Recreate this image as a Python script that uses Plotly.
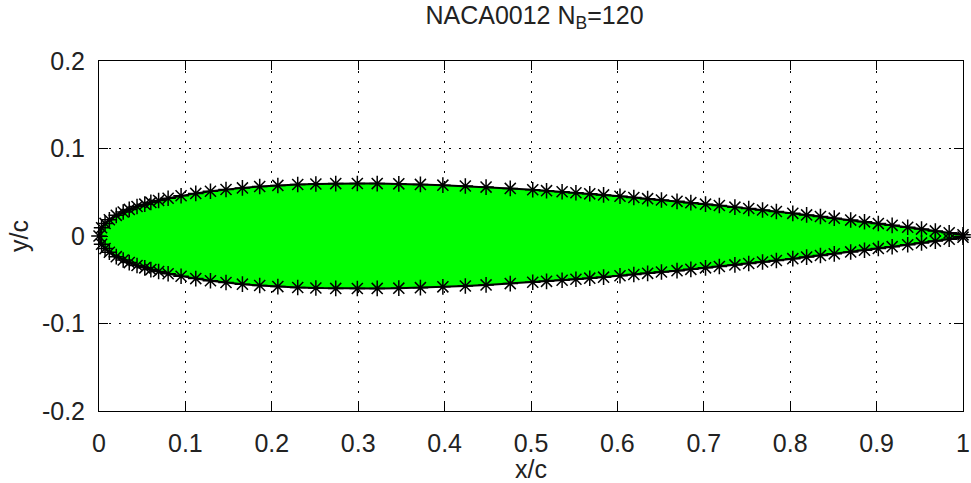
import plotly.graph_objects as go

# Surface stations (x/c), shared by upper and lower surfaces, leading edge -> trailing edge
x_stations = [
    0.000, 0.003, 0.007, 0.012, 0.020, 0.028, 0.035, 0.044, 0.053, 0.060,
    0.069, 0.080, 0.095, 0.112, 0.129, 0.147, 0.166, 0.186, 0.207, 0.230,
    0.251, 0.274, 0.299, 0.322, 0.347, 0.372, 0.398, 0.424, 0.448, 0.476,
    0.502, 0.518, 0.536, 0.552, 0.568, 0.584, 0.603, 0.619, 0.635, 0.651,
    0.669, 0.685, 0.702, 0.718, 0.736, 0.752, 0.768, 0.784, 0.803, 0.819,
    0.835, 0.851, 0.870, 0.886, 0.902, 0.918, 0.936, 0.952, 0.968, 0.984,
    1.000,
]

# Upper surface ordinates (y/c)
y_upper = [
    0.0000, 0.0095, 0.0144, 0.0186, 0.0236, 0.0275, 0.0304, 0.0337, 0.0364, 0.0384,
    0.0406, 0.0431, 0.0460, 0.0487, 0.0511, 0.0532, 0.0550, 0.0565, 0.0578, 0.0588,
    0.0594, 0.0599, 0.0600, 0.0599, 0.0596, 0.0590, 0.0581, 0.0571, 0.0559, 0.0544,
    0.0528, 0.0518, 0.0505, 0.0494, 0.0482, 0.0470, 0.0454, 0.0440, 0.0427, 0.0412,
    0.0396, 0.0381, 0.0364, 0.0349, 0.0330, 0.0314, 0.0297, 0.0280, 0.0259, 0.0241,
    0.0223, 0.0204, 0.0182, 0.0162, 0.0142, 0.0122, 0.0100, 0.0079, 0.0058, 0.0036,
    0.0013,
]

# Lower surface ordinates (y/c)
y_lower = [
    -0.0000, -0.0095, -0.0144, -0.0186, -0.0236, -0.0275, -0.0304, -0.0337, -0.0364, -0.0384,
    -0.0406, -0.0431, -0.0460, -0.0487, -0.0511, -0.0532, -0.0550, -0.0565, -0.0578, -0.0588,
    -0.0594, -0.0599, -0.0600, -0.0599, -0.0596, -0.0590, -0.0581, -0.0571, -0.0559, -0.0544,
    -0.0528, -0.0518, -0.0505, -0.0494, -0.0482, -0.0470, -0.0454, -0.0440, -0.0427, -0.0412,
    -0.0396, -0.0381, -0.0364, -0.0349, -0.0330, -0.0314, -0.0297, -0.0280, -0.0259, -0.0241,
    -0.0223, -0.0204, -0.0182, -0.0162, -0.0142, -0.0122, -0.0100, -0.0079, -0.0058, -0.0036,
    -0.0013,
]

x_ticks = [0.0, 0.1, 0.2, 0.3, 0.4, 0.5, 0.6, 0.7, 0.8, 0.9, 1.0]
x_tick_labels = ["0", "0.1", "0.2", "0.3", "0.4", "0.5", "0.6", "0.7", "0.8", "0.9", "1"]
y_ticks = [-0.2, -0.1, 0.0, 0.1, 0.2]
y_tick_labels = ["-0.2", "-0.1", "0", "0.1", "0.2"]

# Closed boundary: lower surface TE -> LE, then upper surface LE -> TE
bx = x_stations[::-1] + x_stations[1:]
by = y_lower[::-1] + y_upper[1:]

FONT = "Liberation Sans, Arial, sans-serif"

fig = go.Figure()
fig.add_trace(go.Scatter(
    x=bx, y=by,
    mode="lines+markers",
    fill="toself",
    fillcolor="#00ff00",
    line=dict(color="black", width=2),
    marker=dict(symbol="asterisk-open", size=13, color="black",
                line=dict(color="black", width=1.5)),
    cliponaxis=False,
    showlegend=False,
    hoverinfo="x+y",
))

axis_common = dict(
    showline=True, linecolor="black", linewidth=1, mirror="allticks",
    ticks="inside", ticklen=9, tickcolor="black", tickwidth=1,
    showgrid=True, gridcolor="black", gridwidth=1, griddash="2px,8px",
    zeroline=False,
    ticklabeloverflow="allow",
    tickfont=dict(family=FONT, size=25, color="#222222"),
)

fig.update_layout(
    width=971, height=483,
    margin=dict(l=99, r=1, t=61, b=72),
    paper_bgcolor="white", plot_bgcolor="white",
    title=dict(
        text="NACA0012 N<sub>B</sub>=120",
        x=(99 + 970) / 2 / 971, xanchor="center",
        y=1 - 6 / 483, yanchor="top", yref="container",
        font=dict(family=FONT, size=25, color="#222222"),
    ),
    xaxis=dict(
        range=[0, 1], tickvals=x_ticks, ticktext=x_tick_labels,
        ticklabelstandoff=10,
        title=dict(text="x/c", standoff=2, font=dict(family=FONT, size=25, color="#222222")),
        **axis_common,
    ),
    yaxis=dict(
        range=[-0.2, 0.2], tickvals=y_ticks, ticktext=y_tick_labels,
        ticklabelstandoff=8,
        title=dict(text="y/c", standoff=6, font=dict(family=FONT, size=25, color="#222222")),
        **axis_common,
    ),
)

fig.write_html("out.html")
